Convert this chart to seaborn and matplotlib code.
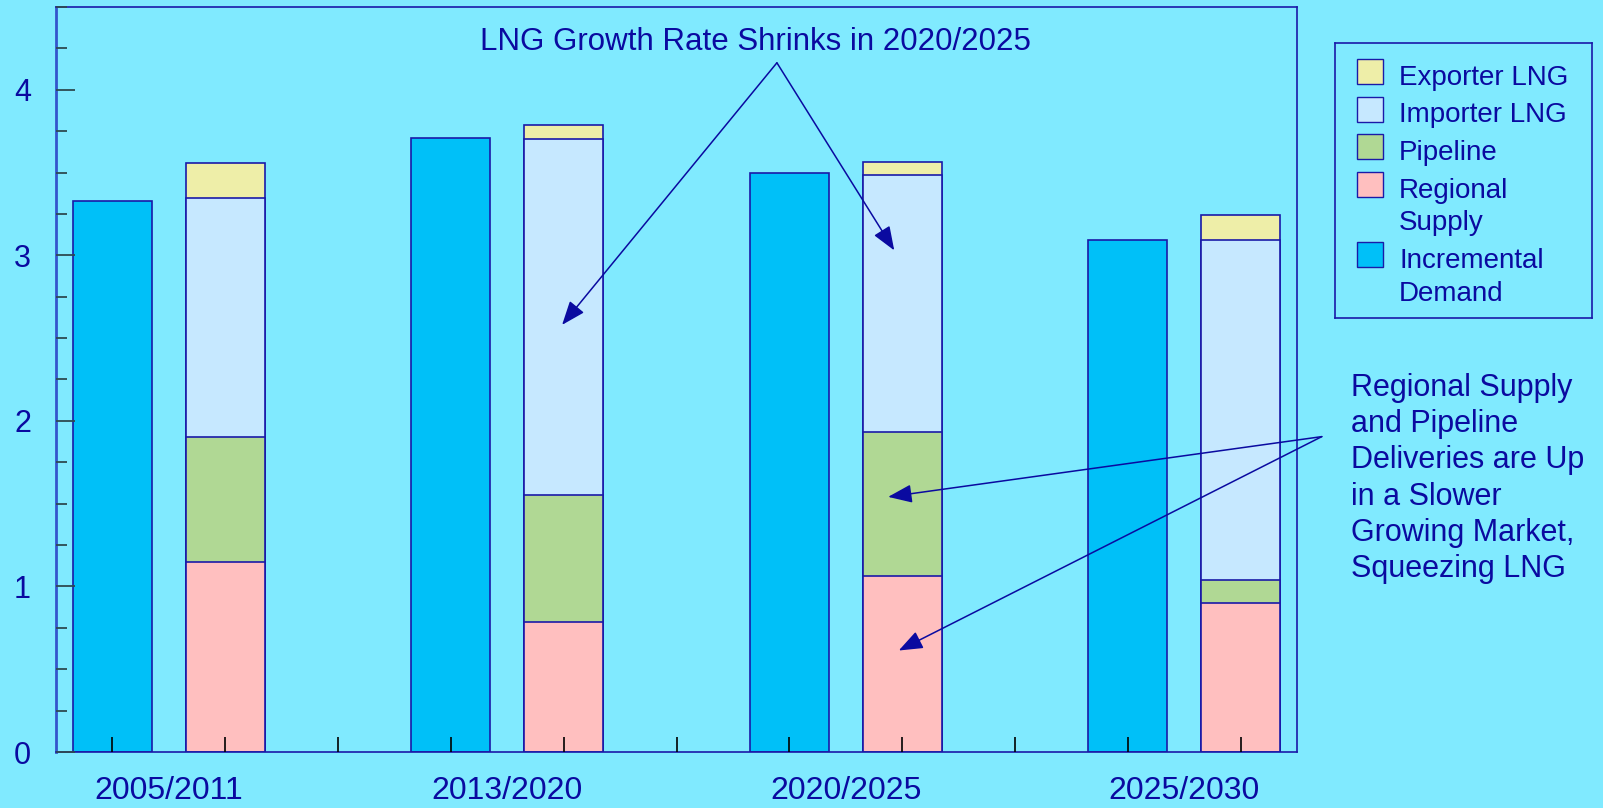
import matplotlib
matplotlib.use("Agg")
import matplotlib.pyplot as plt
from matplotlib.patches import Rectangle
import numpy as np
import pandas as pd
import seaborn as sns

# Data (units as on the y axis)
periods = ["2005/2011", "2013/2020", "2020/2025", "2025/2030"]
incremental_demand = [3.33, 3.71, 3.50, 3.09]
regional_supply = [1.145, 0.785, 1.065, 0.90]
pipeline = [0.76, 0.765, 0.87, 0.14]
importer_lng = [1.44, 2.15, 1.55, 2.055]
exporter_lng = [0.21, 0.09, 0.08, 0.15]

layers = ["Exporter LNG", "Importer LNG", "Pipeline", "Regional\nSupply", "Incremental\nDemand"]
colors = ["#EEEEA8", "#C6E8FF", "#B0D894", "#FFBFBF", "#00C0F8"]

bg = "#80EAFF"
txt = "#0A0AA0"
edge = "#1A1AA8"

sns.set_theme(style="ticks")
plt.rcParams["font.family"] = ["Liberation Sans", "DejaVu Sans"]

# demand bars sit at 0,3,6,9 and the supply stacks at 1,4,7,10
demand_pos = np.arange(len(periods)) * 3
supply_pos = demand_pos + 1

stack = np.array([regional_supply, pipeline, importer_lng, exporter_lng])
tops = np.cumsum(stack, axis=0)

rows = []
for name, top in zip(["Exporter LNG", "Importer LNG", "Pipeline", "Regional\nSupply"], tops[::-1]):
    for p, v in zip(supply_pos, top):
        rows.append({"pos": p, "top": v, "layer": name})
for p, v in zip(demand_pos, incremental_demand):
    rows.append({"pos": p, "top": v, "layer": "Incremental\nDemand"})
df = pd.DataFrame(rows)

fig = plt.figure(figsize=(16.03, 8.08), dpi=100, facecolor=bg)
ax = fig.add_axes([56 / 1603, 56 / 808, 1241 / 1603, 745 / 808])
ax.set_facecolor(bg)

# tallest layer first, lower layers paint over it
sns.barplot(
    data=df, x="pos", y="top", hue="layer", hue_order=layers,
    palette=dict(zip(layers, colors)), native_scale=True, dodge=False,
    width=0.7, errorbar=None, edgecolor=edge, linewidth=1.2,
    saturation=1, legend=False, ax=ax
)
ax.set_axisbelow(False)

ax.set_xlim(-0.5, 10.5)
ax.set_ylim(0, 4.5)
ax.set_xlabel("")
ax.set_ylabel("")

ax.set_yticks([0, 1, 2, 3, 4])
ax.set_yticklabels(["0", "1", "2", "3", "4"])
ax.set_yticks(np.arange(0, 4.51, 0.25), minor=True)
ax.tick_params(axis="y", which="major", direction="in", length=13.5, width=1.3,
               color="#2E4A50", labelsize=22, labelcolor=txt, pad=18)
ax.tick_params(axis="y", which="minor", direction="in", length=8, width=1.3, color="#2E4A50")

ax.set_xticks(np.arange(11))
ax.set_xticklabels([])
ax.set_xticks(demand_pos + 0.5, minor=True)
ax.set_xticklabels(periods, minor=True)
ax.tick_params(axis="x", which="major", direction="in", length=11, width=1.2, color="black")
ax.tick_params(axis="x", which="minor", length=0, labelsize=23, labelcolor=txt, pad=17)

for s in ["top", "right", "bottom"]:
    ax.spines[s].set_color(edge)
    ax.spines[s].set_linewidth(1.2)
ax.spines["left"].set_color("#3355CC")
ax.spines["left"].set_linewidth(2)

arrow = dict(arrowstyle="-|>,head_length=0.7,head_width=0.27", color=txt, lw=1.1,
             mutation_scale=21, shrinkA=0, shrinkB=0)

ax.text(5.70, 4.29, "LNG Growth Rate Shrinks in 2020/2025", ha="center", va="center",
        fontsize=22.5, color=txt)
ax.annotate("", xy=(3.986, 2.58), xytext=(5.89, 4.163), arrowprops=arrow)
ax.annotate("", xy=(6.93, 3.03), xytext=(5.89, 4.163), arrowprops=arrow)

ax.annotate("", xy=(6.876, 1.541), xytext=(10.72, 1.905), arrowprops=arrow, annotation_clip=False)
ax.annotate("", xy=(6.97, 0.613), xytext=(10.72, 1.905), arrowprops=arrow, annotation_clip=False)

fig.text(1351 / 1603, 1 - 373 / 808,
         "Regional Supply\nand Pipeline\nDeliveries are Up\nin a Slower\nGrowing Market,\nSqueezing LNG",
         ha="left", va="top", fontsize=22, color=txt, linespacing=1.27)

# legend box, drawn in its own pixel-like coordinates
lax = fig.add_axes([1335 / 1603, 1 - 318 / 808, 257 / 1603, 275 / 808])
lax.set_xlim(0, 257)
lax.set_ylim(275, 0)
lax.set_xticks([])
lax.set_yticks([])
lax.set_facecolor(bg)
for s in lax.spines.values():
    s.set_color(edge)
    s.set_linewidth(1.2)

y = 42
for name, c in zip(layers, colors):
    lax.add_patch(Rectangle((22, y - 26), 26, 25, facecolor=c, edgecolor=edge, lw=1))
    for k, line in enumerate(name.split("\n")):
        lax.text(64, y, line, ha="left", va="baseline", fontsize=20, color=txt)
        if k < len(name.split("\n")) - 1:
            y += 33
    y += 37.5

fig.savefig("out.png", dpi=100, facecolor=bg)
